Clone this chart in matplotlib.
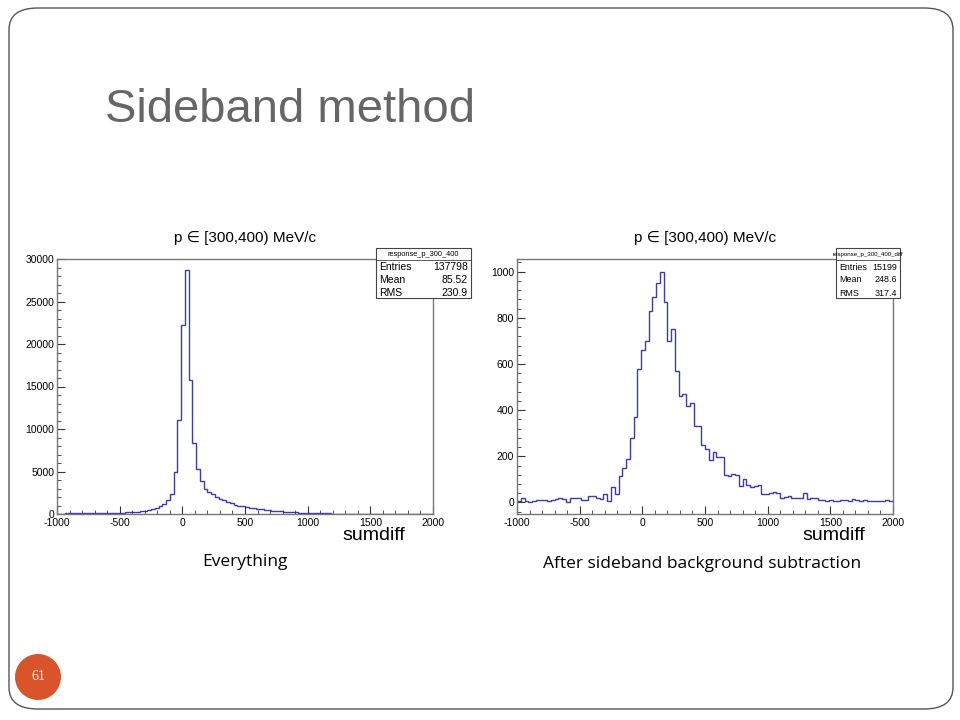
import numpy as np
import matplotlib
matplotlib.use("Agg")
import matplotlib.pyplot as plt
from matplotlib.patches import FancyBboxPatch, Circle, Rectangle
from matplotlib.ticker import MultipleLocator

plt.rcParams['axes.unicode_minus'] = False

edges = np.linspace(-1000, 2000, 101)

left_counts = [50, 55, 60, 60, 65, 70, 70, 75, 80, 85,
               90, 95, 100, 110, 120, 130, 140, 160, 180, 200,
               230, 280, 330, 400, 480, 600, 750, 900, 1200, 1600,
               2300, 4900, 11100, 22200, 28700, 15800, 8300, 5300, 3900, 3000,
               2600, 2300, 2000, 1800, 1600, 1400, 1250, 1100, 1000, 900,
               820, 740, 660, 600, 540, 480, 430, 380, 340, 300,
               270, 240, 210, 190, 170, 150, 130, 115, 100, 90,
               80, 70, 60, 55, 50, 45, 40, 35] + [0] * 22

right_counts = [5, 20, 8, 3, 5, 10, 12, 12, 8, 12,
                15, 20, 15, 0, 20, 20, 18, 10, 10, 28,
                28, 20, 15, 35, 5, 65, 35, 115, 150, 190,
                280, 370, 580, 660, 700, 830, 890, 950, 1000, 870,
                700, 750, 570, 460, 470, 420, 430, 330, 330, 250,
                230, 185, 220, 195, 195, 120, 115, 125, 120, 70,
                100, 75, 65, 70, 75, 35, 35, 40, 45, 40,
                20, 25, 30, 20, 20, 20, 40, 15, 20, 20,
                10, 12, 8, 10, 8, 8, 10, 12, 8, 15,
                10, 8, 10, 8, 5, 5, 5, 5, 10, 5]

title_txt = "p \u2208 [300,400) MeV/c"
stats = [("response_p_300_400", [("Entries", "137798"), ("Mean", "85.52"), ("RMS", "230.9")]),
         ("response_p_300_400_diff", [("Entries", "15199"), ("Mean", "248.6"), ("RMS", "317.4")])]

W, H = 960, 720
fig = plt.figure(figsize=(9.6, 7.2), dpi=100)
fig.patch.set_facecolor("white")

def fx(x): return x / W
def fy(y): return 1 - y / H

fig.patches.append(FancyBboxPatch((fx(9), fy(709)), fx(944), (701) / H,
                                  boxstyle="round,pad=0,rounding_size=0.03",
                                  transform=fig.transFigure, fill=False,
                                  edgecolor="#555555", lw=1.0))
fig.text(fx(105), fy(110), "Sideband method", fontsize=34, color="#666666",
         va="center", ha="left", family="Liberation Sans")

line_c = "#3b3bb0"
RF = "Liberation Sans"

def make(axbox, counts, ylim, ymaj, ymin, stat, statbox, title_x):
    x0, y0, x1, y1 = axbox
    ax = fig.add_axes([fx(x0), fy(y1), (x1 - x0) / W, (y1 - y0) / H])
    ax.stairs(counts, edges, color=line_c, lw=1.0)
    ax.set_xlim(-1000, 2000)
    ax.set_ylim(*ylim)
    ax.xaxis.set_major_locator(MultipleLocator(500))
    ax.xaxis.set_minor_locator(MultipleLocator(100))
    ax.yaxis.set_major_locator(MultipleLocator(ymaj))
    ax.yaxis.set_minor_locator(MultipleLocator(ymin))
    ax.tick_params(which="both", direction="in", labelsize=7.5, pad=2, color="#333333")
    ax.tick_params(which="major", length=6)
    ax.tick_params(which="minor", length=3)
    ax.tick_params(axis="x", pad=3)
    for lab in ax.get_xticklabels() + ax.get_yticklabels():
        lab.set_family(RF)
    for s in ax.spines.values():
        s.set_color("#777777"); s.set_linewidth(1.0)
    fig.text(fx(title_x), fy(238), title_txt, fontsize=11, ha="center", va="center",
             family=[RF, "DejaVu Sans"])
    fig.text(fx(x1 - 28), fy(535), "sumdiff", fontsize=14, ha="right", va="center", family=RF)
    sx0, sy0, sx1, sy1 = statbox
    narrow = sx1 - sx0 < 80
    fig.patches.append(Rectangle((fx(sx0), fy(sy1)), (sx1 - sx0) / W, (sy1 - sy0) / H,
                                 transform=fig.transFigure, facecolor="white",
                                 edgecolor="#444444", lw=0.8, zorder=5))
    fig.lines.append(plt.Line2D([fx(sx0), fx(sx1)], [fy(sy0 + 12), fy(sy0 + 12)],
                                transform=fig.transFigure, color="#444444", lw=0.6, zorder=6))
    fig.text(fx((sx0 + sx1) / 2), fy(sy0 + 6), stat[0], fontsize=4.4 if narrow else 5.3,
             ha="center", va="center", zorder=7, family=RF)
    fs = 6.4 if narrow else 7.5
    for i, (k, v) in enumerate(stat[1]):
        yy = fy(sy0 + 19 + i * 13)
        fig.text(fx(sx0 + 3), yy, k, fontsize=fs, va="center", zorder=7, family=RF)
        fig.text(fx(sx1 - 3), yy, v, fontsize=fs, va="center", ha="right", zorder=7, family=RF)
    return ax

make((57, 259, 433, 514), left_counts, (0, 30000), 5000, 1000, stats[0],
     (376, 248, 471, 298), 245)
make((517, 259, 893, 514), right_counts, (-50, 1055), 200, 40, stats[1],
     (836, 248, 900, 298), 705)

fig.text(fx(245), fy(562), "Everything", fontsize=12.5, ha="center", va="center",
         family="Open Sans")
fig.text(fx(702), fy(564), "After sideband background subtraction", fontsize=12.5,
         ha="center", va="center", family="Open Sans")

cax = fig.add_axes([fx(15), fy(700), 46 / W, 46 / H])
cax.set_xlim(-1, 1); cax.set_ylim(-1, 1); cax.set_aspect("equal"); cax.axis("off")
cax.add_patch(Circle((0, 0), 1, facecolor="#d9532b", edgecolor="none"))
cax.text(0, 0, "61", color="white", fontsize=10, ha="center", va="center",
         family="Liberation Serif")

fig.savefig("out.png", dpi=100)
